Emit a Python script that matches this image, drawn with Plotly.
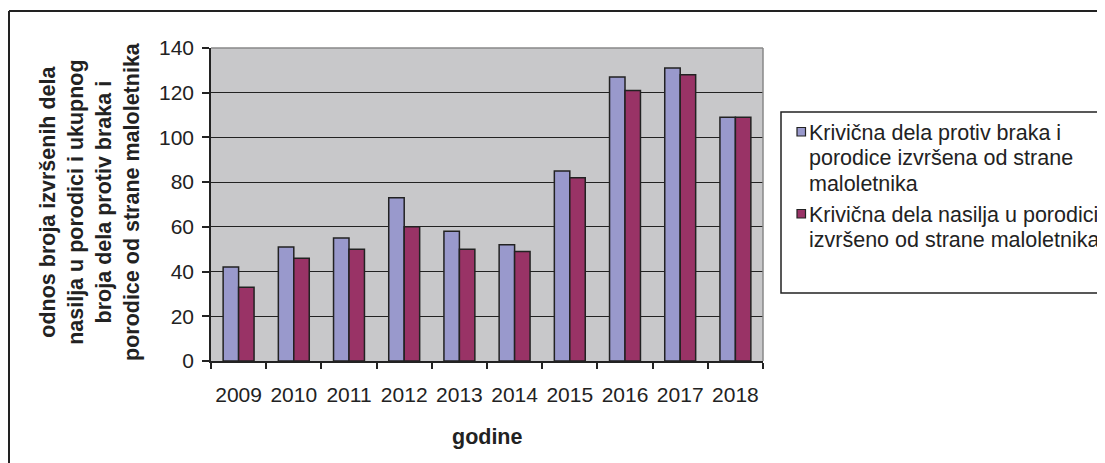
import plotly.graph_objects as go

years = ["2009", "2010", "2011", "2012", "2013", "2014", "2015", "2016", "2017", "2018"]
series1_lines = ["Krivična dela protiv braka i", "porodice izvršena od strane", "maloletnika"]
series2_lines = ["Krivična dela nasilja u porodici", "izvršeno od strane maloletnika"]
series1 = [42, 51, 55, 73, 58, 52, 85, 127, 131, 109]
series2 = [33, 46, 50, 60, 50, 49, 82, 121, 128, 109]
y_ticks = [0, 20, 40, 60, 80, 100, 120, 140]
colors = ["#9999CC", "#993366"]

FONT = "Liberation Sans, Arial, sans-serif"
TXT = "#222222"
OFF = 8  # default page body margin
W, H = 1105 - OFF, 463 - OFF
# plot area in screenshot pixels
L, R, T, B = 211, 763, 48, 361

def px(x):
    return (x - L) / (R - L)

def py(y):
    return (B - y) / (B - T)

fig = go.Figure()
for vals, lines, col in [(series1, series1_lines, colors[0]), (series2, series2_lines, colors[1])]:
    fig.add_trace(go.Bar(x=years, y=vals, name=" ".join(lines), showlegend=False,
                         marker=dict(color=col, line=dict(color="#222222", width=1.5))))

shapes = [
    # plot area top and right border (gray)
    dict(type="line", xref="paper", yref="paper", x0=0, x1=1, y0=1, y1=1,
         line=dict(color="#888888", width=1.5)),
    dict(type="line", xref="paper", yref="paper", x0=1, x1=1, y0=0, y1=1,
         line=dict(color="#888888", width=1.5)),
    # outer chart border (left and top visible)
    dict(type="line", xref="paper", yref="paper", x0=px(9), x1=px(9), y0=py(11), y1=py(480),
         line=dict(color="#222222", width=2)),
    dict(type="line", xref="paper", yref="paper", x0=px(9), x1=px(1120), y0=py(11), y1=py(11),
         line=dict(color="#222222", width=2)),
    # legend box
    dict(type="rect", xref="paper", yref="paper", x0=px(781), x1=px(1120), y0=py(112), y1=py(293),
         line=dict(color="#222222", width=1.5), fillcolor="rgba(0,0,0,0)"),
]

annotations = [
    dict(text="odnos broja izvršenih dela<br>nasilja u porodici i ukupnog<br>broja dela protiv braka i<br>porodice od strane maloletnika",
         xref="paper", yref="paper", x=px(90), y=py(202), xanchor="center", yanchor="middle",
         textangle=-90, showarrow=False, align="center",
         font=dict(family=FONT, size=21.5, color=TXT, weight="bold")),
    dict(text="<b>godine</b>", xref="paper", yref="paper", x=px(487), y=py(437),
         xanchor="center", yanchor="middle", showarrow=False,
         font=dict(family=FONT, size=21.5, color=TXT)),
]

# legend (drawn manually to match the original line spacing)
legend_rows = [(series1_lines, colors[0], 133.0), (series2_lines, colors[1], 215.0)]
LINE = 25.3
for lines, col, y0 in legend_rows:
    shapes.append(dict(type="rect", xref="paper", yref="paper",
                       x0=px(797), x1=px(805.5), y0=py(y0 - 5.5), y1=py(y0 + 3),
                       line=dict(color="#222222", width=1.2), fillcolor=col))
    for i, ln in enumerate(lines):
        annotations.append(dict(text=ln, xref="paper", yref="paper", x=px(807), y=py(y0 + i * LINE),
                                xanchor="left", yanchor="middle", showarrow=False,
                                font=dict(family=FONT, size=21.5, color=TXT)))

fig.update_layout(
    width=W, height=H,
    margin=dict(l=L - OFF, r=W - (R - OFF), t=T - OFF, b=H - (B - OFF), autoexpand=False),
    paper_bgcolor="white",
    plot_bgcolor="#C8C8CA",
    bargap=0.44, bargroupgap=0,
    font=dict(family=FONT, size=21, color=TXT),
    showlegend=False,
    xaxis=dict(type="category", showline=True, linecolor="#222222", linewidth=1.5,
               ticks="outside", ticklen=6, tickcolor="#222222", tickwidth=1.5,
               tickson="boundaries", showgrid=False, ticklabelstandoff=14, tickangle=0,
               tickfont=dict(family=FONT, size=21, color=TXT)),
    yaxis=dict(range=[0, 140], tickvals=y_ticks, showline=True, linecolor="#222222",
               linewidth=1.5, ticks="outside", ticklen=7, tickcolor="#222222", tickwidth=1.5,
               showgrid=True, gridcolor="#222222", gridwidth=1.3, zeroline=False,
               ticklabelstandoff=4,
               tickfont=dict(family=FONT, size=21, color=TXT)),
    shapes=shapes,
    annotations=annotations,
)

fig.write_html("out.html")
